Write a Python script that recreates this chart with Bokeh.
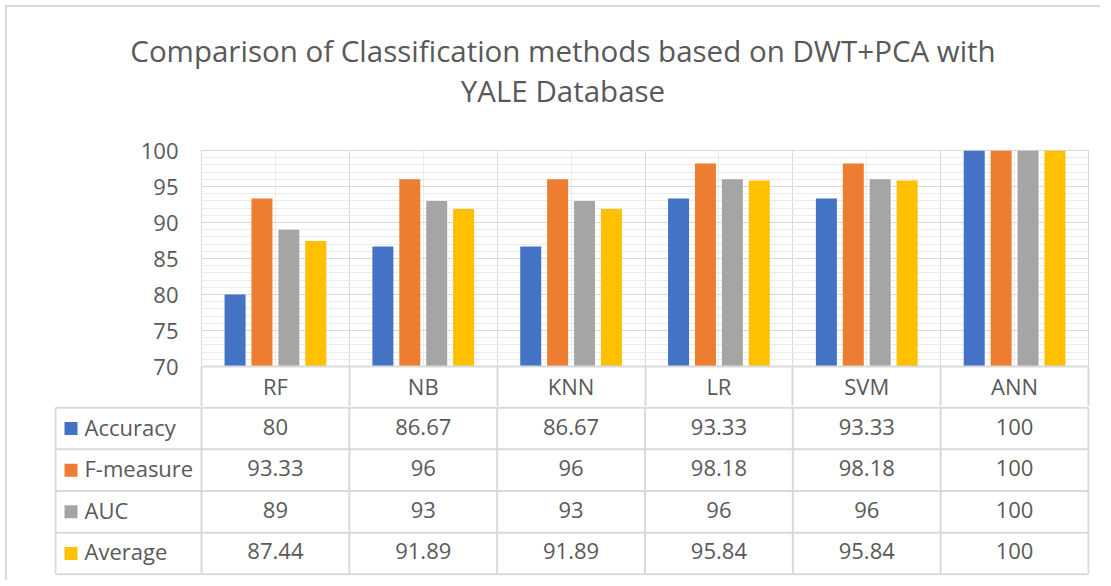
from bokeh.plotting import figure
from bokeh.models import Range1d, FixedTicker
from bokeh.layouts import column
from bokeh.embed import file_html
from bokeh.resources import INLINE
from bokeh.core.properties import value

# ---------------- data ----------------
categories = ["RF", "NB", "KNN", "LR", "SVM", "ANN"]
series_names = ["Accuracy", "F-measure", "AUC", "Average"]
accuracy = [80, 86.67, 86.67, 93.33, 93.33, 100]
f_measure = [93.33, 96, 96, 98.18, 98.18, 100]
auc = [89, 93, 93, 96, 96, 100]
average = [87.44, 91.89, 91.89, 95.84, 95.84, 100]
y_ticks = [70, 75, 80, 85, 90, 95, 100]
title_lines = ["Comparison of Classification methods based on DWT+PCA with",
               "YALE Database"]

series_values = [accuracy, f_measure, auc, average]

# ---------------- style ----------------
colors = ["#4472C4", "#ED7D31", "#A5A5A5", "#FFC000"]
FONT = "Open Sans"
TXT = "#595959"
GRID = "#d9d9d9"
MINOR = "#ebebeb"
n = len(categories)
PX = 147.83  # pixels per category
label_w = 146 / PX
W = 1100

# ---------------- title block ----------------
TH = 130
ttl = figure(width=W, height=TH, title=None,
             x_range=Range1d(0, W), y_range=Range1d(TH, 0),
             x_axis_location=None, y_axis_location=None,
             min_border_left=0, min_border_right=0, min_border_top=0, min_border_bottom=0,
             frame_align=False, output_backend="svg", toolbar_location=None)
ttl.grid.visible = False
ttl.outline_line_color = None
ttl.border_fill_color = None
ttl.background_fill_color = None
ttl.text(x=[562.5, 562.5], y=[50, 90], text=title_lines,
         text_align="center", text_baseline="alphabetic", text_font=value(FONT),
         text_font_size="29.5px", text_color=TXT)

# ---------------- bar chart (with header row as x axis) ----------------
p = figure(width=W, height=406 - TH, title=None,
           x_range=Range1d(0, n), y_range=Range1d(y_ticks[0], y_ticks[-1]),
           min_border_left=201, min_border_right=12, min_border_top=150 - TH, min_border_bottom=40,
           frame_align=False,
           output_backend="svg", toolbar_location=None)
p.outline_line_color = GRID
p.border_fill_color = None

p.yaxis.ticker = FixedTicker(ticks=y_ticks, minor_ticks=list(range(y_ticks[0], y_ticks[-1] + 1)))
p.yaxis.axis_line_color = None
p.yaxis.major_tick_line_color = None
p.yaxis.minor_tick_line_color = None
p.yaxis.major_tick_out = 0
p.yaxis.minor_tick_out = 0
p.yaxis.major_label_standoff = 23
p.yaxis.major_label_text_font = FONT
p.yaxis.major_label_text_font_size = "22px"
p.yaxis.major_label_text_color = TXT

centers = [i + 0.5 for i in range(n)]
p.xaxis.ticker = FixedTicker(ticks=centers, minor_ticks=list(range(n + 1)))
p.xaxis.major_label_overrides = {c: cat for c, cat in zip(centers, categories)}
p.xaxis.axis_line_color = GRID
p.xaxis.axis_line_width = 2
p.xaxis.major_tick_line_color = None
p.xaxis.major_tick_out = 0
p.xaxis.major_tick_in = 0
p.xaxis.minor_tick_in = 0
p.xaxis.minor_tick_out = 40
p.xaxis.minor_tick_line_color = GRID
p.xaxis.minor_tick_line_width = 2
p.xaxis.major_label_standoff = -36
p.xaxis.major_label_text_font = FONT
p.xaxis.major_label_text_font_size = "22px"
p.xaxis.major_label_text_color = TXT

p.ygrid.grid_line_color = GRID
p.ygrid.minor_grid_line_color = MINOR
# x ticker: majors at category centres, minors at boundaries
p.xgrid.grid_line_color = MINOR
p.xgrid.minor_grid_line_color = GRID

step = 0.182
for k, vals in enumerate(series_values):
    xs = [i + 0.5 + (k - 1.5) * step for i in range(n)]
    p.vbar(x=xs, bottom=y_ticks[0], top=vals, width=0.142,
           fill_color=colors[k], line_color=None)

# ---------------- data table ----------------
nrows = len(series_names)
t = figure(width=W, height=174, title=None,
           x_range=Range1d(-label_w - 1 / PX, n + 1 / PX), y_range=Range1d(-0.03, nrows + 0.03),
           x_axis_location=None, y_axis_location=None,
           min_border_left=54, min_border_right=11, min_border_top=0, min_border_bottom=5,
           frame_align=False,
           output_backend="svg", toolbar_location=None)
t.grid.visible = False
t.outline_line_color = None
t.border_fill_color = None

# horizontal lines
t.segment(x0=[-label_w] * (nrows + 1), x1=[n] * (nrows + 1),
          y0=list(range(nrows + 1)), y1=list(range(nrows + 1)),
          line_color=GRID, line_width=2)
# vertical lines
vx = [-label_w] + list(range(n + 1))
t.segment(x0=vx, x1=vx, y0=[0] * len(vx), y1=[nrows] * len(vx),
          line_color=GRID, line_width=2)

row_y = [nrows - 0.5 - k for k in range(nrows)]
# legend keys + names
t.rect(x=[-label_w + 15.5 / PX] * nrows, y=row_y, width=13, height=13,
       width_units="screen", height_units="screen", fill_color=colors, line_color=None)
t.text(x=[-label_w] * nrows, y=row_y, text=series_names, x_offset=29, y_offset=-2,
       text_align="left", text_baseline="middle", text_font=value(FONT),
       text_font_size="22px", text_color=TXT)

# values
for k, vals in enumerate(series_values):
    t.text(x=centers, y=[row_y[k]] * n, y_offset=-2,
           text=[format(v, "g") for v in vals],
           text_align="center", text_baseline="middle", text_font=value(FONT),
           text_font_size="22px", text_color=TXT)

# outer chart-area border (top and left edges, as in the reference)
layout = column(ttl, p, t, styles={
    "background-color": "white",
    "background-image": f"linear-gradient({GRID},{GRID}), linear-gradient({GRID},{GRID})",
    "background-size": "2px 100%, 100% 2px",
    "background-position": "5px 5px, 5px 5px",
    "background-repeat": "no-repeat",
})
open("out.html", "w").write(file_html(layout, INLINE))
